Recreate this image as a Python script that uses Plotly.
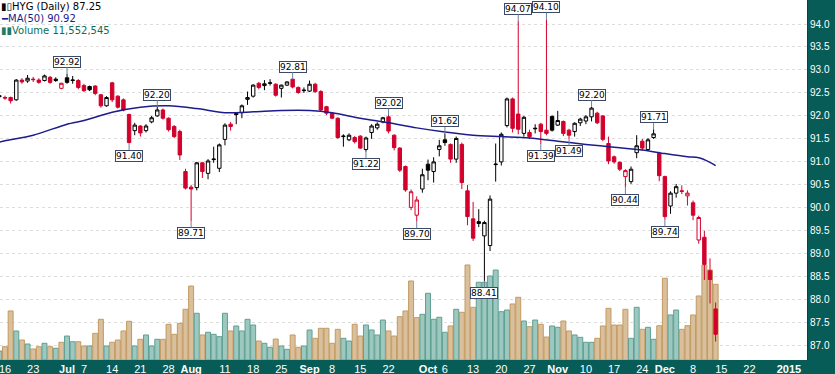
import pandas as pd
import plotly.graph_objects as go

# ---------------- data ----------------
HOLIDAYS = {"2014-07-04", "2014-09-01", "2014-11-27", "2014-12-25", "2015-01-01"}
AXIS_DAYS = [d.strftime("%Y-%m-%d") for d in pd.bdate_range("2014-06-13", "2015-01-08")
             if d.strftime("%Y-%m-%d") not in HOLIDAYS]

OPEN = [92.44, 92.40, 92.40, 92.35, 92.78, 92.76, 92.80, 92.78, 92.77, 92.84, 92.80, 92.60,
        92.83, 92.77, 92.77, 92.66, 92.64, 92.65, 92.46, 92.22, 92.72, 92.43, 92.35, 92.03,
        91.68, 91.78, 91.68, 91.87, 92.00, 92.13, 91.95, 91.77, 91.66, 90.79,
        90.45, 90.44, 90.98, 90.75, 91.05, 90.86, 91.49, 91.82, 92.05, 92.07, 92.36, 92.43,
        92.71, 92.66, 92.71, 92.69, 92.60, 92.67, 92.80, 92.62, 92.55,
        92.54, 92.69, 92.53, 92.20, 92.06, 91.95, 91.55, 91.48, 91.53, 91.56, 91.27, 91.64,
        91.74, 91.87, 91.98, 91.58, 91.30, 90.90, 90.01, 89.84, 90.41,
        90.95, 90.79, 91.27, 91.48, 91.38, 91.06, 91.38, 90.37, 89.76, 89.70, 89.39, 89.18,
        90.94, 91.00, 91.79, 92.37, 92.04, 91.62, 91.64, 91.72, 91.82, 91.69, 91.99,
        91.80, 91.88, 91.69, 91.66, 91.85, 91.89, 91.98, 92.06, 92.00, 91.40, 91.11, 90.99,
        90.68, 90.57, 91.20, 91.45, 91.27, 91.53, 91.19,
        90.68, 90.04, 90.32, 90.37, 90.26, 90.11, 89.30, 89.36, 88.63, 87.80]
HIGH = [92.47, 92.44, 92.42, 92.80, 92.82, 92.89, 92.85, 92.82, 92.90, 92.87, 92.84, 92.72,
        92.92, 92.87, 92.80, 92.70, 92.66, 92.67, 92.48, 92.43, 92.74, 92.45, 92.38, 92.05,
        91.85, 91.80, 91.82, 92.00, 92.20, 92.16, 91.97, 91.80, 91.70, 90.85,
        90.50, 91.00, 91.00, 91.06, 91.33, 91.40, 91.84, 91.87, 92.07, 92.25, 92.53, 92.69,
        92.74, 92.78, 92.80, 92.71, 92.68, 92.75, 92.81, 92.64, 92.62,
        92.77, 92.72, 92.56, 92.22, 92.08, 91.97, 91.60, 91.62, 91.56, 91.58, 91.55, 91.82,
        91.86, 91.98, 92.02, 91.60, 91.32, 90.92, 90.40, 90.25, 90.85,
        91.05, 91.10, 91.48, 91.62, 91.40, 91.55, 91.42, 90.50, 90.13, 89.97, 89.72, 90.27,
        91.40, 91.64, 92.40, 92.40, 94.07, 92.00, 91.70, 91.82, 91.85, 94.10, 92.01,
        92.11, 91.90, 91.72, 91.86, 91.96, 92.02, 92.20, 92.09, 92.02, 91.55, 91.14, 91.01,
        90.84, 90.90, 91.58, 91.50, 91.52, 91.71, 91.22,
        90.70, 90.36, 90.52, 90.49, 90.38, 90.16, 89.83, 89.50, 88.90, 87.94]
LOW = [92.38, 92.35, 92.27, 92.33, 92.70, 92.72, 92.74, 92.70, 92.75, 92.70, 92.74, 92.58,
       92.70, 92.70, 92.58, 92.52, 92.54, 92.45, 92.18, 92.20, 92.30, 92.16, 92.10, 91.40,
       91.58, 91.55, 91.64, 91.84, 91.98, 91.92, 91.66, 91.52, 91.04, 90.40,
       89.71, 90.38, 90.65, 90.62, 90.98, 90.78, 91.36, 91.68, 91.82, 91.95, 92.24, 92.40,
       92.58, 92.56, 92.66, 92.42, 92.40, 92.65, 92.60, 92.48, 92.50,
       92.52, 92.50, 92.10, 92.02, 91.93, 91.50, 91.33, 91.45, 91.40, 91.28, 91.22, 91.50,
       91.70, 91.84, 91.62, 91.25, 90.78, 90.35, 89.95, 89.70, 90.33,
       90.60, 90.55, 91.12, 91.35, 90.98, 90.98, 90.41, 89.62, 89.28, 89.58, 88.41, 89.06,
       90.57, 90.92, 91.75, 91.64, 91.60, 91.55, 91.50, 91.62, 91.39, 91.58, 91.66,
       91.78, 91.56, 91.49, 91.55, 91.78, 91.82, 91.88, 91.82, 91.45, 90.95, 90.96, 90.80,
       90.44, 90.52, 91.08, 91.25, 91.24, 91.50, 90.58,
       89.74, 89.87, 90.22, 90.30, 90.05, 89.73, 89.22, 88.43, 87.92, 87.09]
CLOSE = [92.42, 92.39, 92.33, 92.78, 92.74, 92.82, 92.79, 92.73, 92.87, 92.73, 92.77, 92.71,
         92.73, 92.78, 92.62, 92.55, 92.57, 92.49, 92.22, 92.40, 92.35, 92.19, 92.13, 91.42,
         91.80, 91.63, 91.78, 91.96, 92.13, 91.95, 91.70, 91.55, 91.15, 90.43,
         90.41, 90.98, 90.79, 91.02, 91.06, 91.37, 91.80, 91.77, 92.03, 92.22, 92.40, 92.67,
         92.62, 92.70, 92.72, 92.45, 92.67, 92.74, 92.63, 92.51, 92.56,
         92.69, 92.53, 92.13, 92.06, 91.95, 91.53, 91.56, 91.58, 91.44, 91.30, 91.52, 91.78,
         91.82, 91.96, 91.67, 91.31, 90.82, 90.39, 90.35, 90.17, 90.72,
         90.82, 91.00, 91.35, 91.42, 91.06, 91.51, 90.55, 89.81, 89.34, 89.66, 89.68, 90.19,
         90.95, 91.60, 92.37, 91.73, 91.71, 91.97, 91.55, 91.73, 91.66, 91.62, 91.69,
         91.90, 91.62, 91.58, 91.84, 91.93, 91.98, 92.17, 91.85, 91.49, 91.02, 91.00, 90.84,
         90.81, 90.84, 91.35, 91.30, 91.48, 91.61, 90.70,
         89.81, 90.32, 90.46, 90.36, 90.32, 89.84, 89.79, 88.77, 88.44, 87.25]
VOLUME = [1370000, 2030000, 7480000, 4430000, 3050000, 2440000, 1680000, 2030000, 2550000,
          2030000, 1790000, 2700000,
          3660000, 2790000, 2790000, 2140000, 2140000, 4070000, 6210000, 2140000, 2700000,
          3050000, 4430000, 5910000, 2140000, 3160000, 3820000, 2140000, 3160000, 3160000,
          5450000, 3920000, 5600000, 7740000,
          11290000, 7130000, 3820000, 4230000, 3920000, 3560000, 7130000, 4430000, 5190000,
          4430000, 6210000, 5340000, 2900000, 2550000, 1940000, 3200000, 2140000, 1630000,
          3820000, 1940000, 2140000,
          4580000, 3310000, 4840000, 4840000, 2550000, 4680000, 3310000, 2900000, 5450000,
          3660000, 5340000, 4580000, 3820000, 6100000, 4430000, 3660000, 6610000, 7480000,
          12060000, 6460000, 6970000,
          10180000, 6210000, 6520000, 4230000, 5190000, 7740000, 7280000, 14500000, 8040000,
          11860000, 11860000, 12820000, 13730000, 7370000, 7630000, 8550000, 9570000, 5950000,
          5080000, 6100000, 5450000, 3510000, 5190000,
          4990000, 5950000, 4430000, 3820000, 3460000, 2700000, 2700000, 3310000, 5190000,
          7890000, 5340000, 5340000, 7740000, 3310000, 8040000, 4680000, 4990000, 3160000,
          5230000,
          12470000, 6870000, 7630000, 4680000, 5230000, 6870000, 9770000, 14500000, 13730000,
          11552545]

MA_DATES = ["2014-06-13", "2014-06-16", "2014-06-23", "2014-07-01", "2014-07-07", "2014-07-14",
            "2014-07-21", "2014-07-28", "2014-08-04", "2014-08-11", "2014-08-18", "2014-08-25",
            "2014-09-02", "2014-09-08", "2014-09-15", "2014-09-22", "2014-09-29", "2014-10-06",
            "2014-10-13", "2014-10-20", "2014-10-27", "2014-11-03", "2014-11-10", "2014-11-17",
            "2014-11-24", "2014-12-01", "2014-12-05", "2014-12-09", "2014-12-11", "2014-12-12"]
MA_VALUES = [91.43, 91.46, 91.58, 91.82, 91.90, 92.08, 92.19, 92.22, 92.16, 92.07, 92.09, 92.12,
             92.12, 92.07, 91.95, 91.85, 91.74, 91.65, 91.58, 91.55, 91.52, 91.45, 91.38, 91.32,
             91.26, 91.18, 91.11, 91.09, 90.99, 90.92]

TICK_DATES = ["2014-06-16", "2014-06-23", "2014-07-01", "2014-07-07", "2014-07-14", "2014-07-21",
              "2014-07-28", "2014-08-01", "2014-08-11", "2014-08-18", "2014-08-25", "2014-09-02",
              "2014-09-08", "2014-09-15", "2014-09-22", "2014-10-01", "2014-10-06", "2014-10-13",
              "2014-10-20", "2014-10-27", "2014-11-03", "2014-11-10", "2014-11-17", "2014-11-24",
              "2014-12-01", "2014-12-08", "2014-12-15", "2014-12-22", "2015-01-02"]
TICK_TEXT = ["16", "23", "<b>Jul</b>", "7", "14", "21", "28", "<b>Aug</b>", "11", "18", "25",
             "<b>Sep</b>", "8", "15", "22", "<b>Oct</b>", "6", "13", "20", "27", "<b>Nov</b>",
             "10", "17", "24", "<b>Dec</b>", "8", "15", "22", "<b>2015</b>"]
PRICE_TICKS = [87.0, 87.5, 88.0, 88.5, 89.0, 89.5, 90.0, 90.5, 91.0, 91.5, 92.0, 92.5,
               93.0, 93.5, 94.0]

# labelled swing points: (date, 'H' = high / 'L' = low)
LABELS = [("2014-07-01", "H"), ("2014-07-17", "L"), ("2014-07-24", "H"), ("2014-08-01", "L"),
          ("2014-08-27", "H"), ("2014-09-16", "L"), ("2014-09-22", "H"), ("2014-09-29", "L"),
          ("2014-10-06", "H"), ("2014-10-15", "L"), ("2014-10-23", "H"), ("2014-10-29", "L"),
          ("2014-10-30", "H"), ("2014-11-05", "L"), ("2014-11-11", "H"), ("2014-11-19", "L"),
          ("2014-11-26", "H"), ("2014-12-01", "L")]

# ---------------- styling ----------------
RED = "#d2002c"
BLACK = "#000000"
TAN_FILL, TAN_LINE = "#d9bf9b", "#c29a62"
TEAL_FILL, TEAL_LINE = "#9dc8bf", "#5f9f92"
NAVY = "#1c1c8c"
PANEL = "#075c58"
GRID = "#dddddd"
GRID_MONTH = "#c2c2c2"
FONT = "DejaVu Sans"

n = len(CLOSE)
DATES = AXIS_DAYS[:n]
up = [True] + [CLOSE[i] >= CLOSE[i - 1] for i in range(1, n)]

fig = go.Figure()

fig.add_trace(go.Bar(
    x=DATES, y=VOLUME, xaxis="x", yaxis="y",
    marker=dict(color=[TEAL_FILL if u else TAN_FILL for u in up],
                line=dict(color=[TEAL_LINE if u else TAN_LINE for u in up], width=1)),
    hoverinfo="skip", showlegend=False))


def candles(flag, color):
    idx = [i for i in range(n) if up[i] == flag]
    return go.Candlestick(
        x=[DATES[i] for i in idx], open=[OPEN[i] for i in idx], high=[HIGH[i] for i in idx],
        low=[LOW[i] for i in idx], close=[CLOSE[i] for i in idx],
        xaxis="x", yaxis="y2", whiskerwidth=0,
        increasing=dict(line=dict(color=color, width=1), fillcolor="white"),
        decreasing=dict(line=dict(color=color, width=1), fillcolor=color),
        showlegend=False, hoverinfo="skip")


fig.add_trace(candles(True, BLACK))
fig.add_trace(candles(False, RED))

fig.add_trace(go.Scatter(x=MA_DATES, y=MA_VALUES, xaxis="x", yaxis="y2", mode="lines",
                         line=dict(color=NAVY, width=1.5, shape="spline", smoothing=0.8),
                         hoverinfo="skip", showlegend=False))

# gridline helpers derived from the trading-day axis
week_starts = [AXIS_DAYS[i] for i in range(1, len(AXIS_DAYS))
               if pd.Timestamp(AXIS_DAYS[i]).isocalendar()[1] != pd.Timestamp(AXIS_DAYS[i - 1]).isocalendar()[1]]
month_starts = [AXIS_DAYS[i] for i in range(1, len(AXIS_DAYS))
                if AXIS_DAYS[i][:7] != AXIS_DAYS[i - 1][:7]]

# x range: first labelled day sits 5px in, 5.64px per trading day, plot 807px wide
PX_PER_DAY = 5.64
PLOT_W, PLOT_H = 807, 360
x0 = AXIS_DAYS.index("2014-06-16") - 5 / PX_PER_DAY
x_range = [x0, x0 + PLOT_W / PX_PER_DAY]

PX_PER_UNIT = 45.96
y_top = 94.0 + 24 / PX_PER_UNIT
y_range = [y_top - PLOT_H / PX_PER_UNIT, y_top]
VOL_MAX = PLOT_H * 152600

cat = dict(type="category", categoryorder="array", categoryarray=AXIS_DAYS, range=x_range,
           fixedrange=True, automargin=False)

fig.update_layout(
    width=835, height=374,
    margin=dict(l=0, r=28, t=0, b=14, pad=0, autoexpand=False),
    paper_bgcolor=PANEL, plot_bgcolor="white",
    showlegend=False, boxgap=0.14, bargap=0.12,
    xaxis=dict(**cat, tickmode="array", tickvals=TICK_DATES, ticktext=TICK_TEXT,
               showgrid=False, zeroline=False, showline=False, ticks="",
               ticklabelstandoff=1,
               tickfont=dict(family="Liberation Sans", size=11, color="white"),
               rangeslider=dict(visible=False), anchor="y"),
    xaxis2=dict(**cat, overlaying="x", anchor="y", tickmode="array", tickvals=week_starts,
                showgrid=True, gridcolor=GRID, griddash="3px,3px", gridwidth=1,
                showticklabels=False, ticks="", zeroline=False, showline=False),
    xaxis3=dict(**cat, overlaying="x", anchor="y", tickmode="array", tickvals=month_starts,
                showgrid=True, gridcolor=GRID_MONTH, griddash="3px,3px", gridwidth=1,
                showticklabels=False, ticks="", zeroline=False, showline=False),
    yaxis=dict(range=[0, VOL_MAX], visible=False, showgrid=False, fixedrange=True,
               automargin=False),
    yaxis2=dict(overlaying="y", side="right", anchor="x", range=y_range,
                tickmode="array", tickvals=PRICE_TICKS, tickformat=".1f",
                showgrid=True, gridcolor=GRID, griddash="3px,3px", zeroline=False,
                showline=True, linecolor="#1e3a3a", linewidth=1,
                ticks="", ticklabelstandoff=0, automargin=False,
                tickfont=dict(family="Liberation Sans", size=10, color="white"),
                fixedrange=True),
)

# swing labels
date_pos = {d: i for i, d in enumerate(DATES)}
for d, kind in LABELS:
    i = date_pos[d]
    val = HIGH[i] if kind == "H" else LOW[i]
    fig.add_annotation(x=d, y=val, xref="x", yref="y2", text=f"{val:.2f}",
                       showarrow=True, arrowhead=0, arrowwidth=1, arrowcolor="#6f7f9f",
                       ax=0, ay=-12 if kind == "H" else 12, standoff=0,
                       bgcolor="white", bordercolor="#3b4866", borderwidth=1, borderpad=0,
                       font=dict(family=FONT, size=9, color="black"))

# header legend
header = [
    ("▮▯", BLACK, f"HYG (Daily) {CLOSE[-1]:.2f}", BLACK),
    ("━", NAVY, f"MA(50) {MA_VALUES[-1]:.2f}", NAVY),
    ("▮▮", "#1f7a66", f"Volume {VOLUME[-1]:,}", "#0b6e5a"),
]
for k, (icon, icol, txt, tcol) in enumerate(header):
    yy = 1 - (0.2 + 11.8 * k) / PLOT_H
    fig.add_annotation(x=0, y=yy, xref="paper", yref="paper", xanchor="left", yanchor="top",
                       text=f"<span style='color:{icol}'>{icon}</span>{txt}",
                       showarrow=False, align="left", borderpad=0,
                       font=dict(family=FONT, size=10, color=tcol))

fig.write_html("out.html", config={"displayModeBar": False},
               post_script="document.body.style.margin='0';document.body.style.padding='0';")
